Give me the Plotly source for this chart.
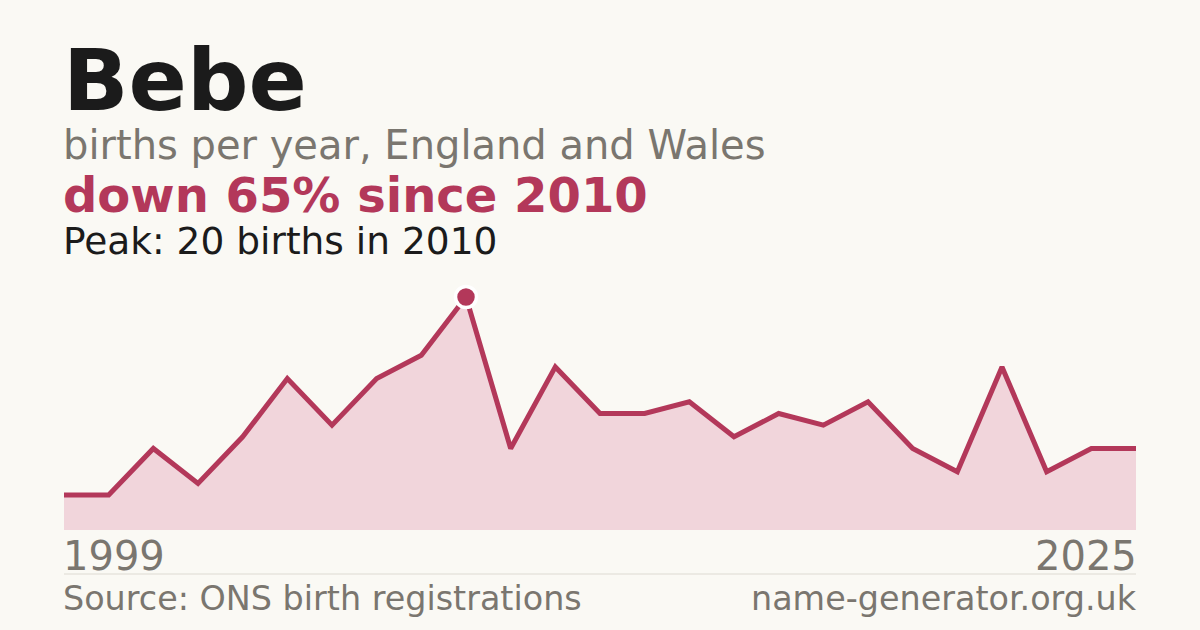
import plotly.graph_objects as go

years = ["1999", "2000", "2002", "2004", "2005", "2006", "2007", "2008", "2009", "2010",
         "2011", "2012", "2013", "2014", "2015", "2016", "2017", "2018", "2019", "2020",
         "2021", "2022", "2023", "2024", "2025"]
births = [3, 3, 7, 4, 8, 13, 9, 13, 15, 20, 7, 14, 10, 10, 11, 8, 10, 9, 11, 7, 5, 14, 5, 7, 7]

name = "Bebe"
subtitle = "births per year, England and Wales"
headline = "down 65% since 2010"
peak_text = "Peak: 20 births in 2010"
first_label = "1999"
last_label = "2025"
source = "Source: ONS birth registrations"
site = "name-generator.org.uk"

RED = "#B3385A"
FILL = "#F1D5DB"
BG = "#FAF9F4"
GRAY = "#7A766F"
DARK = "#1B1B1B"
FONT = "DejaVu Sans"

W, H = 1200, 630
L, R, T, B = 64, 64, 297, 100
PH = H - T - B


def py(ypix):
    return (H - B - ypix) / PH


peak_i = births.index(max(births))

fig = go.Figure()
fig.add_trace(go.Scatter(
    x=years, y=births, mode="lines",
    line=dict(color=RED, width=5),
    fill="tozeroy", fillcolor=FILL,
    hoverinfo="skip", cliponaxis=False,
))
fig.add_trace(go.Scatter(
    x=[years[peak_i]], y=[births[peak_i]], mode="markers",
    marker=dict(size=21, color=RED, line=dict(color="white", width=3.5)),
    hoverinfo="skip", cliponaxis=False,
))

ann = [
    dict(text=f"<b>{name}</b>", x=0, y=py(80), font=dict(size=86, color=DARK), xanchor="left", xshift=-3),
    dict(text=subtitle, x=0, y=py(145), font=dict(size=40, color=GRAY), xanchor="left", xshift=-3),
    dict(text=f"<b>{headline}</b>", x=0, y=py(195), font=dict(size=48, color=RED), xanchor="left", xshift=-3),
    dict(text=peak_text, x=0, y=py(241), font=dict(size=37.5, color=DARK), xanchor="left", xshift=-3),
    dict(text=first_label, x=0, y=py(556), font=dict(size=40, color=GRAY), xanchor="left", xshift=-3),
    dict(text=last_label, x=1, y=py(556), font=dict(size=40, color=GRAY), xanchor="right", xshift=3),
    dict(text=source, x=0, y=py(598), font=dict(size=33.4, color=GRAY), xanchor="left", xshift=-3),
    dict(text=site, x=1, y=py(598), font=dict(size=33.4, color=GRAY), xanchor="right", xshift=3),
]
for a in ann:
    a.update(xref="paper", yref="paper", yanchor="middle", showarrow=False)

fig.update_layout(
    width=W, height=H,
    margin=dict(l=L, r=R, t=T, b=B, pad=0),
    paper_bgcolor=BG, plot_bgcolor=BG,
    font=dict(family=FONT),
    showlegend=False,
    annotations=ann,
    shapes=[dict(type="line", xref="paper", yref="paper", x0=0, x1=1,
                 y0=py(574), y1=py(574), line=dict(color="#DDDAD2", width=1))],
    xaxis=dict(type="category", range=[0, len(years) - 1], visible=False, showgrid=False),
    yaxis=dict(range=[0, max(births)], visible=False, showgrid=False, zeroline=False),
)

fig.write_html(
    "out.html",
    config={"displayModeBar": False},
    post_script="document.body.style.margin='0';document.body.style.background='%s';" % BG,
)
